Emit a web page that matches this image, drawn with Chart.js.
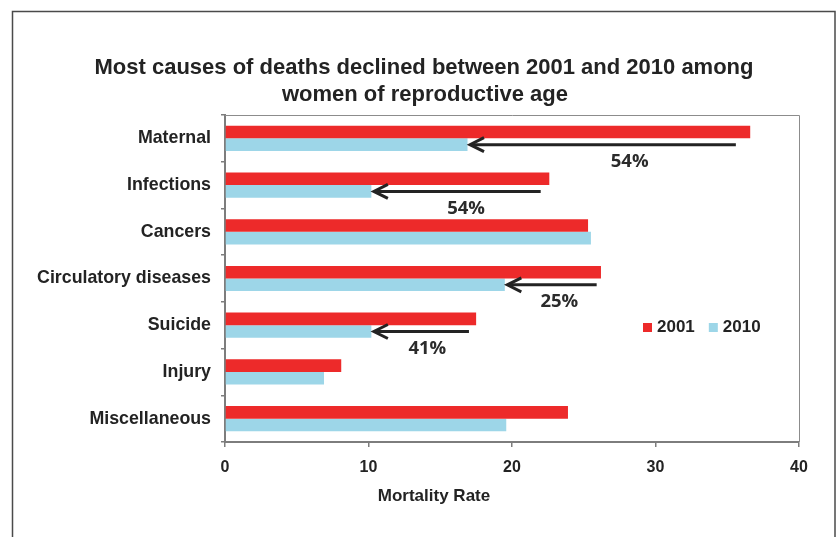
<!DOCTYPE html>
<html>
<head>
<meta charset="utf-8">
<script src="https://cdn.jsdelivr.net/npm/chart.js@4.4.1/dist/chart.umd.min.js"></script>
<style>
  html, body { margin: 0; padding: 0; background: #fff; }
  #wrap { width: 838px; height: 537px; position: relative; }
</style>
</head>
<body>
<div id="wrap"><canvas id="c" width="838" height="537"></canvas></div>
<script>
// Mortality rate by cause, women of reproductive age
const categories = ['Maternal', 'Infections', 'Cancers', 'Circulatory diseases', 'Suicide', 'Injury', 'Miscellaneous'];
const rate2001 = [36.6, 22.6, 25.3, 26.2, 17.5, 8.1, 23.9];
const rate2010 = [16.9, 10.2, 25.5, 19.5, 10.2, 6.9, 19.6];
const xTicks = [0, 10, 20, 30, 40];

// Decline arrows: category index, arrow tail (rate units), label text, label centre (rate units)
const arrowCats = [0, 1, 3, 4];
const arrowTails = [35.6, 22.0, 25.9, 17.0];
const arrowLabels = ['54%', '54%', '25%', '41%'];
const arrowLabelAt = [28.2, 16.8, 23.3, 14.1];

const titleLines = ['Most causes of deaths declined between 2001 and 2010 among', 'women of reproductive age'];
const xTitle = 'Mortality Rate';

const RED = '#ED2A2A';
const BLUE = '#9DD6E8';
const INK = '#232323';
const AXIS = '#7d7d7d';
const SANS = '"Liberation Sans", Arial, Helvetica, sans-serif';

const decorations = {
  id: 'decorations',
  beforeDraw(chart) {
    const ctx = chart.ctx;
    ctx.save();
    ctx.fillStyle = '#fff';
    ctx.fillRect(0, 0, chart.width, chart.height);
    // outer frame
    ctx.strokeStyle = '#4a4a4a';
    ctx.lineWidth = 1.5;
    ctx.strokeRect(12.5, 11.5, 822.5, 560);
    ctx.restore();
  },
  afterDraw(chart) {
    const ctx = chart.ctx;
    const a = chart.chartArea;
    const xs = chart.scales.x;
    ctx.save();
    // plot box, top and right edges
    ctx.strokeStyle = '#8c8c8c';
    ctx.lineWidth = 1;
    ctx.beginPath();
    ctx.moveTo(a.left, a.top + 0.5);
    ctx.lineTo(a.right + 0.5, a.top + 0.5);
    ctx.lineTo(a.right + 0.5, a.bottom);
    ctx.stroke();

    // title
    ctx.fillStyle = INK;
    ctx.textAlign = 'center';
    ctx.textBaseline = 'alphabetic';
    ctx.font = 'bold 22px ' + SANS;
    ctx.fillText(titleLines[0], 424, 74);
    ctx.fillText(titleLines[1], 425, 101);

    // x axis title
    ctx.font = 'bold 17px ' + SANS;
    ctx.textBaseline = 'middle';
    ctx.fillText(xTitle, 434, 496);

    // decline arrows with percentage labels
    const blue = chart.getDatasetMeta(1).data;
    ctx.strokeStyle = INK;
    ctx.lineWidth = 3;
    ctx.lineJoin = 'miter';
    arrowCats.forEach((ci, k) => {
      const y = blue[ci].y;
      const tip = xs.getPixelForValue(rate2010[ci]) + 2.5;
      const tail = xs.getPixelForValue(arrowTails[k]);
      ctx.beginPath();
      ctx.moveTo(tail, y);
      ctx.lineTo(tip + 2, y);
      ctx.stroke();
      ctx.beginPath();
      ctx.moveTo(tip + 14, y - 7);
      ctx.lineTo(tip, y);
      ctx.lineTo(tip + 14, y + 7);
      ctx.stroke();
      ctx.fillStyle = '#2b2b2b';
      ctx.font = 'bold 18.5px "Open Sans", "Noto Sans", sans-serif';
      ctx.textAlign = 'center';
      ctx.textBaseline = 'middle';
      ctx.fillText(arrowLabels[k], xs.getPixelForValue(arrowLabelAt[k]), y + 17);
    });

    // legend
    ctx.font = 'bold 17px ' + SANS;
    ctx.textAlign = 'left';
    ctx.textBaseline = 'middle';
    let lx = 643;
    const ly = 327.5;
    chart.data.datasets.forEach(ds => {
      ctx.fillStyle = ds.backgroundColor;
      ctx.fillRect(lx, ly - 4.5, 9, 9);
      ctx.fillStyle = INK;
      ctx.fillText(ds.label, lx + 14, ly);
      lx += 14 + ctx.measureText(ds.label).width + 14;
    });
    ctx.restore();
  }
};

new Chart(document.getElementById('c'), {
  type: 'bar',
  data: {
    labels: categories,
    datasets: [
      { label: '2001', data: rate2001, backgroundColor: RED, borderWidth: 0 },
      { label: '2010', data: rate2010, backgroundColor: BLUE, borderWidth: 0 }
    ]
  },
  options: {
    indexAxis: 'y',
    responsive: false,
    animation: false,
    devicePixelRatio: 1,
    layout: { padding: { top: 115, right: 39, left: 0, bottom: 0 } },
    datasets: { bar: { categoryPercentage: 0.54, barPercentage: 1.0 } },
    plugins: { legend: { display: false }, title: { display: false }, tooltip: { enabled: false } },
    scales: {
      x: {
        type: 'linear',
        min: 0,
        max: 40,
        afterBuildTicks: s => { s.ticks = xTicks.map(v => ({ value: v })); },
        afterFit: s => { s.height = 537 - 442; },
        ticks: { color: INK, font: { family: SANS, size: 16, weight: 'bold' }, padding: 11 },
        grid: { drawOnChartArea: false, tickLength: 5, color: AXIS, lineWidth: 1.5 },
        border: { color: AXIS, width: 2 }
      },
      y: {
        afterFit: s => { s.width = 225; },
        ticks: { color: INK, font: { family: SANS, size: 17.8, weight: 'bold' }, padding: 10 },
        grid: { drawOnChartArea: false, offset: true, tickLength: 4, color: AXIS, lineWidth: 1.5 },
        border: { color: AXIS, width: 2 }
      }
    }
  },
  plugins: [decorations]
});
</script>
</body>
</html>
